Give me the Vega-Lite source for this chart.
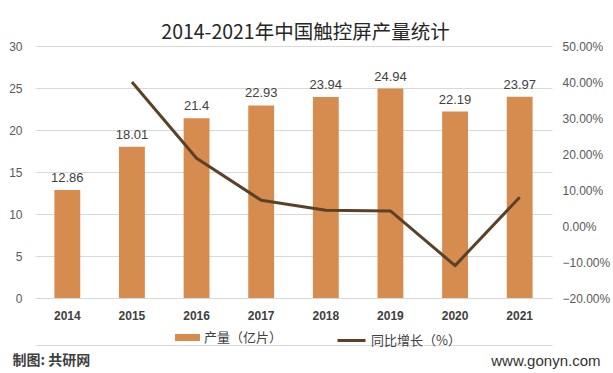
{
  "$schema": "https://vega.github.io/schema/vega-lite/v6.json",
  "width": 517,
  "height": 252,
  "autosize": "none",
  "padding": {"left": 35, "top": 46, "right": 61, "bottom": 75},
  "background": "white",
  "config": {"view": {"stroke": null}},
  "title": {
    "text": "2014-2021年中国触控屏产量统计",
    "font": "Noto Sans CJK SC",
    "fontSize": 19.5,
    "fontWeight": "normal",
    "color": "#262626",
    "anchor": "middle",
    "dx": 12,
    "dy": 9,
    "offset": 6
  },
  "data": {
    "values": [
      {"year": "2014", "output": 12.86, "growth": null},
      {"year": "2015", "output": 18.01, "growth": 0.40},
      {"year": "2016", "output": 21.4, "growth": 0.188},
      {"year": "2017", "output": 22.93, "growth": 0.0715},
      {"year": "2018", "output": 23.94, "growth": 0.044},
      {"year": "2019", "output": 24.94, "growth": 0.042},
      {"year": "2020", "output": 22.19, "growth": -0.110},
      {"year": "2021", "output": 23.97, "growth": 0.080}
    ]
  },
  "layer": [
    {
      "encoding": {
        "x": {
          "field": "year",
          "type": "ordinal",
          "scale": {"paddingInner": 0.6, "paddingOuter": 0.3},
          "axis": {
            "title": null,
            "labelAngle": 0,
            "labelFont": "Liberation Sans",
            "labelFontSize": 12,
            "labelFontWeight": "bold",
            "labelColor": "#404040",
            "labelPadding": 12,
            "ticks": false,
            "domain": true,
            "domainColor": "#D9D9D9"
          }
        },
        "y": {
          "field": "output",
          "type": "quantitative",
          "scale": {"domain": [0, 30]},
          "axis": {
            "values": [0, 5, 10, 15, 20, 25, 30],
            "grid": true,
            "gridColor": "#D9D9D9",
            "domain": false,
            "ticks": false,
            "labelFont": "Liberation Sans",
            "labelFontSize": 12,
            "labelColor": "#595959",
            "labelPadding": 13,
            "title": "制图: 共研网",
            "titleAngle": 0,
            "titleX": -23,
            "titleY": 314,
            "titleAlign": "left",
            "titleBaseline": "middle",
            "titleFont": "Noto Sans CJK SC",
            "titleFontSize": 14,
            "titleFontWeight": "bold",
            "titleColor": "#404040"
          }
        }
      },
      "layer": [
        {
          "mark": {"type": "bar"},
          "encoding": {
            "color": {
              "datum": "产量（亿片）",
              "scale": {"range": ["#D68B4F"]},
              "legend": {
                "title": null,
                "orient": "none",
                "legendX": 140,
                "legendY": 279,
                "symbolType": "M-1,-0.28H1V0.28H-1Z",
                "symbolSize": 625,
                "symbolStrokeWidth": 0,
                "labelFont": "Noto Sans CJK SC",
                "labelFontSize": 13,
                "labelColor": "#404040"
              }
            }
          }
        },
        {
          "mark": {"type": "text", "dy": -12, "font": "Liberation Sans", "fontSize": 13, "color": "#404040"},
          "encoding": {"text": {"field": "output", "type": "quantitative"}}
        }
      ]
    },
    {
      "mark": {"type": "line", "interpolate": "linear", "strokeWidth": 3, "strokeJoin": "round"},
      "encoding": {
        "x": {
          "field": "year",
          "type": "ordinal",
          "scale": {"paddingInner": 0.6, "paddingOuter": 0.3},
          "axis": {
            "orient": "bottom",
            "offset": 47,
            "labels": true,
            "labelExpr": "''",
            "ticks": false,
            "grid": false,
            "title": "",
            "domain": true,
            "domainWidth": 1,
            "domainColor": "#D9D9D9"
          }
        },
        "y": {
          "field": "growth",
          "type": "quantitative",
          "scale": {"domain": [-0.2, 0.5]},
          "axis": {
            "orient": "right",
            "values": [-0.2, -0.1, 0, 0.1, 0.2, 0.3, 0.4, 0.5],
            "format": ".2%",
            "grid": false,
            "domain": false,
            "ticks": false,
            "labelFont": "Liberation Sans",
            "labelFontSize": 12,
            "labelColor": "#595959",
            "labelPadding": 10,
            "title": "www.gonyn.com",
            "titleAngle": 0,
            "titleX": 48,
            "titleY": 314,
            "titleAlign": "right",
            "titleBaseline": "middle",
            "titleFont": "Liberation Sans",
            "titleFontSize": 15,
            "titleFontWeight": "normal",
            "titleColor": "#333333"
          }
        },
        "color": {
          "datum": "同比增长（%）",
          "scale": {"range": ["#5C4129"]},
          "legend": {
            "title": null,
            "orient": "none",
            "legendX": 301,
            "legendY": 279,
            "symbolType": "stroke",
            "symbolSize": 784,
            "symbolStrokeWidth": 3,
            "labelFont": "Noto Sans CJK SC",
            "labelFontSize": 13,
            "labelColor": "#404040"
          }
        }
      }
    }
  ],
  "resolve": {"scale": {"x": "independent", "y": "independent", "color": "independent"}, "axis": {"x": "independent"}}
}
